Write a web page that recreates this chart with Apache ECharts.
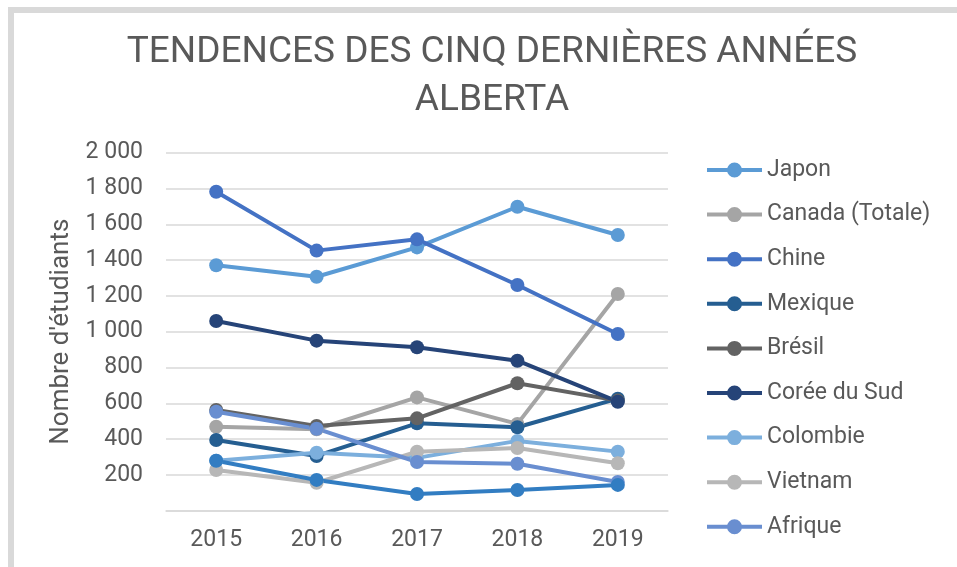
<!DOCTYPE html>
<html>
<head>
<meta charset="utf-8">
<script src="https://cdn.jsdelivr.net/npm/echarts@6/dist/echarts.min.js"></script>
<style>
  html, body { margin: 0; padding: 0; background: #fff; }
  #main { width: 957px; height: 567px; }
</style>
</head>
<body>
<div id="main"></div>
<script>
// categories
var years = ['2015', '2016', '2017', '2018', '2019'];

// series values
var japon = [1371, 1307, 1471, 1698, 1540];
var canada = [469, 455, 633, 485, 1211];
var chine = [1782, 1453, 1516, 1261, 987];
var mexique = [395, 306, 488, 466, 626];
var bresil = [563, 473, 516, 712, 615];
var coree = [1060, 950, 913, 838, 609];
var colombie = [279, 324, 295, 390, 330];
var vietnam = [227, 156, 330, 350, 265];
var afrique = [553, 458, 272, 262, 160];
var autre = [279, 172, 93, 116, 144];   // 10th line, no legend entry visible

var seriesNames = ['Japon', 'Canada (Totale)', 'Chine', 'Mexique', 'Brésil',
  'Corée du Sud', 'Colombie', 'Vietnam', 'Afrique', 'Autre'];
var seriesData = [japon, canada, chine, mexique, bresil, coree, colombie, vietnam, afrique, autre];
var colors = ['#5B9BD5', '#A5A5A5', '#4472C4', '#255E91', '#636363',
  '#264478', '#7CAFDD', '#B7B7B7', '#698ED0', '#327DC2'];

var chart = echarts.init(document.getElementById('main'));

var font = 'Roboto, "Noto Sans", sans-serif';
var textColor = '#595959';

// legend icon: thick line with a dot in the middle (55 x 15 box)
var lineDotIcon = 'path://M0,5.5 H55 V9.5 H0 Z M20,7.5 A7.5,7.5 0 1,1 35,7.5 A7.5,7.5 0 1,1 20,7.5 Z';

var option = {
  animation: false,
  color: colors,
  textStyle: { fontFamily: font },
  title: {
    text: 'TENDENCES DES CINQ DERNIÈRES ANNÉES\nALBERTA',
    left: 487,
    top: 24,
    textAlign: 'center',
    textStyle: {
      fontFamily: font,
      fontSize: 37,
      fontWeight: 'normal',
      color: textColor,
      lineHeight: 48
    }
  },
  graphic: [{
    type: 'rect',
    shape: { x: 11, y: 10, width: 1000, height: 620 },
    style: { fill: 'none', stroke: '#D9D9D9', lineWidth: 6 },
    silent: true
  }],
  legend: {
    orient: 'vertical',
    left: 707,
    top: 158,
    padding: 0,
    itemWidth: 55,
    itemHeight: 15,
    itemGap: 20.6,
    icon: lineDotIcon,
    data: seriesNames.slice(0, 9),
    textStyle: { fontFamily: font, fontSize: 23, lineHeight: 24, color: textColor }
  },
  grid: { left: 166, right: 289, top: 152.7, bottom: 56.3 },
  xAxis: {
    type: 'category',
    data: years,
    axisLine: { lineStyle: { color: '#D9D9D9', width: 1.5 } },
    axisTick: { show: false },
    axisLabel: { fontSize: 23, color: textColor, margin: 18 }
  },
  yAxis: {
    type: 'value',
    min: 0,
    max: 2000,
    interval: 200,
    name: "Nombre d'étudiants",
    nameLocation: 'middle',
    nameGap: 90,
    nameTextStyle: { fontSize: 26, color: textColor },
    axisLine: { show: false },
    axisTick: { show: false },
    axisLabel: {
      fontSize: 23,
      color: textColor,
      margin: 23,
      formatter: function (v) {
        if (v === 0) return '';
        return String(v).replace(/\B(?=(\d{3})+(?!\d))/g, ' ');
      }
    },
    splitLine: { lineStyle: { color: '#D9D9D9', width: 1.5 } }
  },
  series: seriesData.map(function (d, i) {
    return {
      name: seriesNames[i],
      type: 'line',
      data: d,
      symbol: 'circle',
      symbolSize: 14,
      lineStyle: { width: 4 }
    };
  })
};

chart.setOption(option);
</script>
</body>
</html>
